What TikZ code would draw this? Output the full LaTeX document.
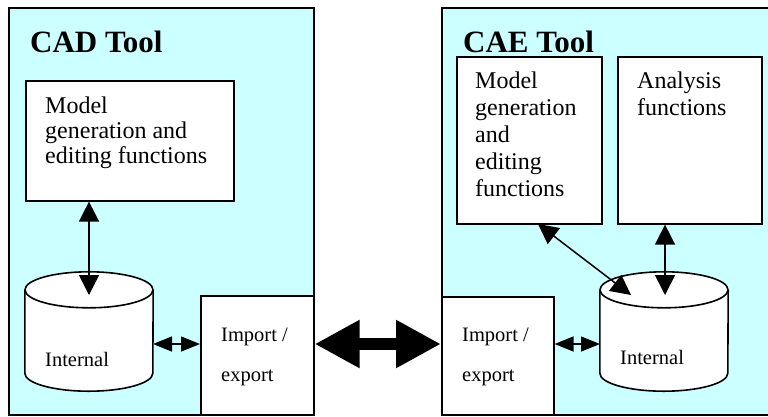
\documentclass[tikz,border=0pt]{standalone}
\usepackage{fontspec}
\setmainfont{Liberation Serif}
\usetikzlibrary{arrows.meta}
\definecolor{panelcyan}{HTML}{CCFFFF}
\begin{document}
\begin{tikzpicture}[x=1pt,y=-1pt,
  panel/.style={draw=black, line width=2pt, fill=panelcyan, inner sep=0pt, anchor=north west},
  box/.style={draw=black, line width=1.6pt, fill=white, inner sep=0pt, anchor=north west},
  cyl/.style={draw=black, line width=1.6pt, fill=white},
  title/.style={anchor=base west, inner sep=0pt, font=\bfseries\fontsize{31}{31}\selectfont},
  bigtxt/.style={anchor=base west, inner sep=0pt, align=left, font=\fontsize{24}{#1}\selectfont},
  smalltxt/.style={anchor=base west, inner sep=0pt, align=left, font=\fontsize{20.5}{40}\selectfont},
  dbl/.style={line width=1.5pt, arrows={Triangle[length=20pt,width=20pt]-Triangle[length=20pt,width=20pt]}},
  sdbl/.style={line width=1.5pt, arrows={Triangle[length=19pt,width=15pt]-Triangle[length=19pt,width=15pt]}},
  big/.style={line width=12pt, arrows={Triangle[length=45pt,width=45pt]-Triangle[length=45pt,width=45pt]}}
]
\useasboundingbox (0,0) rectangle (768,416);
\fill[white] (0,0) rectangle (768,416);

% panels
\node[panel, minimum width=305, minimum height=407] (cadpanel) at (8,7) {};
\node[panel, minimum width=340, minimum height=407] (caepanel) at (441,7) {};

% titles
\node[title] (cadtitle) at (30,52) {CAD Tool};
\node[title] (caetitle) at (463,52) {CAE Tool};

% boxes
\node[box, minimum width=208, minimum height=120] (cadmodel) at (25,80) {};
\node[box, minimum width=145, minimum height=167] (caemodel) at (456,56) {};
\node[box, minimum width=144, minimum height=167] (analysis) at (617,56) {};
\node[box, minimum width=113, minimum height=119] (cadimp) at (200,295) {};
\node[box, minimum width=112, minimum height=118] (caeimp) at (441,296) {};

% cylinders (invisible nodes give the body)
\node[inner sep=0pt, minimum width=128, minimum height=83] (cadcyl) at (89,331.5) {};
\node[inner sep=0pt, minimum width=128, minimum height=83] (caecyl) at (664,331.5) {};
\foreach \c in {cadcyl,caecyl}{
  \draw[cyl] (\c.north west) -- (\c.south west)
     arc[start angle=180, end angle=0, x radius=64, y radius=18] -- (\c.north east);
  \draw[cyl] (\c.north) ellipse[x radius=64, y radius=18];
}

% texts (anchor = baseline of the last line)
\node[bigtxt=25] (cadmodeltxt) at (45,163) {Model\\generation and\\editing functions};
\node[bigtxt=27] (caemodeltxt) at (475,196) {Model\\generation\\and\\editing\\functions};
\node[bigtxt=27] (analysistxt) at (637,115) {Analysis\\functions};
\node[smalltxt] (cadimptxt) at (221,381) {Import /\\export};
\node[smalltxt] (caeimptxt) at (462,381) {Import /\\export};
\node[smalltxt] (cadinttxt) at (45,366) {Internal};
\node[smalltxt] (caeinttxt) at (620,364) {Internal};

% connector ends
\coordinate (cadcyltop) at (89,295);
\coordinate (caecyltop) at (665,295);
\coordinate (cadside) at (153,344);
\coordinate (caeside) at (600,344);
\coordinate (diagstart) at (538,224);
\coordinate (diagend) at (631,295);

% connectors
\draw[dbl] (cadmodel.south -| cadcyltop) -- (cadcyltop);
\draw[sdbl] (cadside) -- (cadimp.west |- cadside);
\draw[big] (cadimp.east |- cadside) -- (caeimp.west |- cadside);
\draw[sdbl] (caeimp.east |- caeside) -- (caeside);
\draw[dbl] (analysis.south -| caecyltop) -- (caecyltop);
\draw[dbl] (diagstart) -- (diagend);
\end{tikzpicture}
\end{document}
